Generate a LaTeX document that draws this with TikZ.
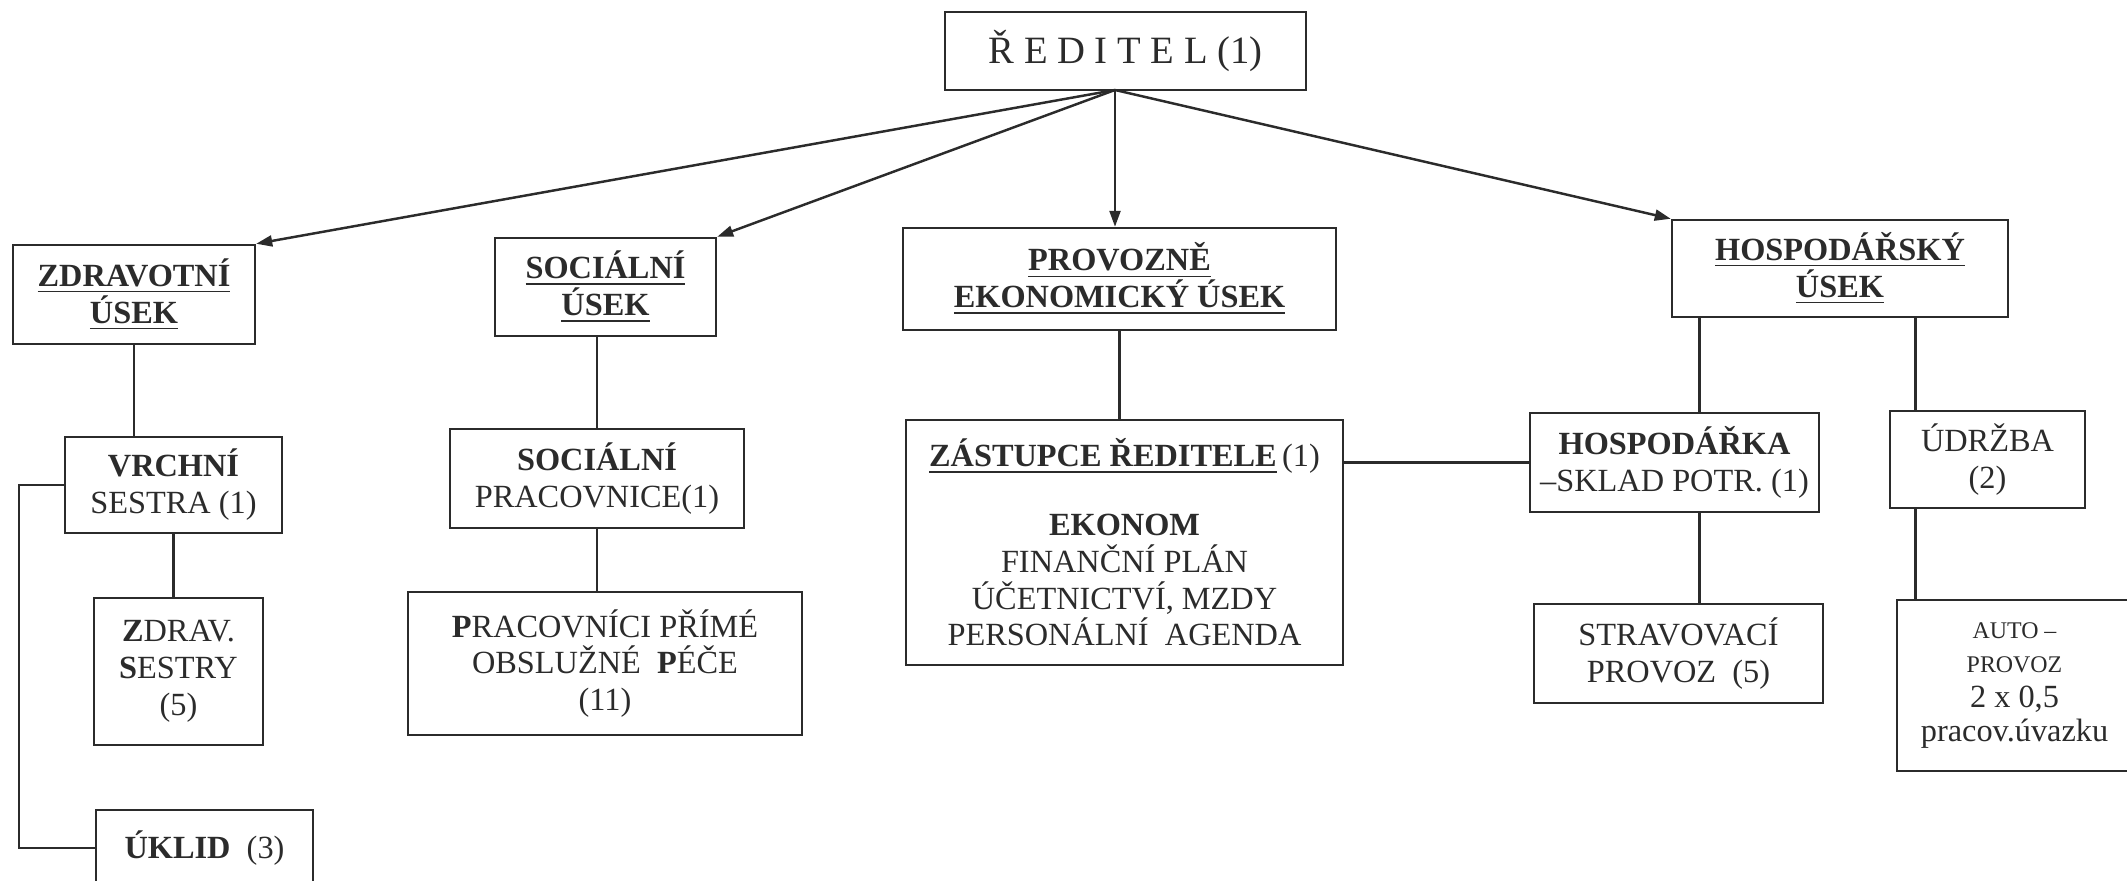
\documentclass[tikz,border=0pt]{standalone}
\usepackage{fontspec}
\setmainfont{Liberation Serif}
\usetikzlibrary{arrows.meta}
\definecolor{inkt}{HTML}{2B2B2B}

\begin{document}
\begin{tikzpicture}[x=1cm,y=1cm,color=inkt,
  box/.style={draw,inner sep=0pt,align=center,font=\fontsize{9.2}{10.5}\selectfont},
  tip/.style={-{Triangle[length=1.6mm,width=1.1mm]}}]
\pgfsetlinewidth{.7pt}
\useasboundingbox (0,0) rectangle (21.27,8.81);
\clip (0,0) rectangle (21.27,8.81);
%
% vedeni
\node[box,minimum width=3.61cm,minimum height=.78cm,font=\fontsize{11}{13}\selectfont] (dir) at (11.255,8.30) {Ř E D I T E L (1)};
\coordinate (src) at (11.15,7.91);
%
% useky
\node[box,minimum width=2.42cm,minimum height=.99cm] (zdr) at (1.34,5.865) {\textbf{\underline{ZDRAVOTNÍ}}\\\textbf{\underline{ÚSEK}}};
\node[box,minimum width=2.21cm,minimum height=.98cm] (soc) at (6.055,5.94) {\textbf{\underline{SOCIÁLNÍ}}\\\textbf{\underline{ÚSEK}}};
\node[box,minimum width=4.33cm,minimum height=1.02cm] (pe) at (11.195,6.02) {\textbf{\underline{PROVOZNĚ}}\\\textbf{\underline{EKONOMICKÝ ÚSEK}}};
\node[box,minimum width=3.36cm,minimum height=.97cm] (hos) at (18.40,6.125) {\textbf{\underline{HOSPODÁŘSKÝ}}\\\textbf{\underline{ÚSEK}}};
%
\draw[tip] (src) -- (zdr.north east);
\draw[tip] (src) -- (soc.north east);
\draw[tip] (src) -- (src |- pe.north);
\draw[tip] (src) -- (hos.north west);
%
% zdravotni usek
\node[box,minimum width=2.17cm,minimum height=.96cm] (vrch) at (1.735,3.96) {\textbf{VRCHNÍ}\\SESTRA (1)};
\node[box,minimum width=1.69cm,minimum height=1.47cm] (zs) at (1.785,2.095) {\textbf{Z}DRAV.\\\textbf{S}ESTRY\\(5)};
\node[box,minimum width=2.17cm,minimum height=.76cm] (ukl) at (2.045,.33) {\textbf{ÚKLID}\ \ (3)};
\draw (zdr.south) -- (zdr.south |- vrch.north);
\draw (vrch.south) -- (vrch.south |- zs.north);
\draw (vrch.west) -- ++(-.45,0) |- (ukl.west);
%
% socialni usek
\node[box,minimum width=2.94cm,minimum height=.99cm] (sp) at (5.97,4.025) {\textbf{SOCIÁLNÍ}\\PRACOVNICE(1)};
\node[box,minimum width=3.94cm,minimum height=1.43cm] (pp) at (6.05,2.175) {\textbf{P}RACOVNÍCI PŘÍMÉ\\OBSLUŽNÉ\ \ \textbf{P}ÉČE\\(11)};
\draw (sp.north) -- (sp.north |- soc.south);
\draw (sp.south) -- (sp.south |- pp.north);
%
% provozne ekonomicky usek
\node[box,minimum width=4.37cm,minimum height=2.45cm] (zast) at (11.245,3.385) {\textbf{\underline{ZÁSTUPCE ŘEDITELE}}\,(1)\\[9pt]\textbf{EKONOM}\\FINANČNÍ PLÁN\\ÚČETNICTVÍ, MZDY\\PERSONÁLNÍ\ \ AGENDA};
\draw (pe.south) -- (pe.south |- zast.north);
%
% hospodarsky usek
\node[box,minimum width=2.89cm,minimum height=.99cm] (hk) at (16.745,4.185) {\textbf{HOSPODÁŘKA}\\–SKLAD POTR. (1)};
\node[box,minimum width=1.95cm,minimum height=.97cm] (udr) at (19.875,4.215) {ÚDRŽBA\\(2)};
\node[box,minimum width=2.89cm,minimum height=.99cm] (str) at (16.785,2.275) {STRAVOVACÍ\\PROVOZ\ \ (5)};
\node[box,minimum width=2.35cm,minimum height=1.71cm,font=\fontsize{9.2}{9.8}\selectfont] (auto) at (20.145,1.955) {{\fontsize{6.8}{8.6}\selectfont AUTO –}\\{\fontsize{6.8}{8.6}\selectfont PROVOZ}\\2 x 0,5\\pracov.úvazku};
\draw (hk.west) -- (hk.west -| zast.east);
\draw ([xshift=2.5mm]hk.north) -- ([xshift=2.5mm]hk.north |- hos.south);
\draw ([xshift=2.5mm]hk.south) -- ([xshift=2.5mm]hk.south |- str.north);
\draw ([xshift=-7.2mm]udr.north) -- ([xshift=-7.2mm]udr.north |- hos.south);
\draw ([xshift=-7.2mm]udr.south) -- ([xshift=-7.2mm]udr.south |- auto.north);
\end{tikzpicture}
\end{document}
